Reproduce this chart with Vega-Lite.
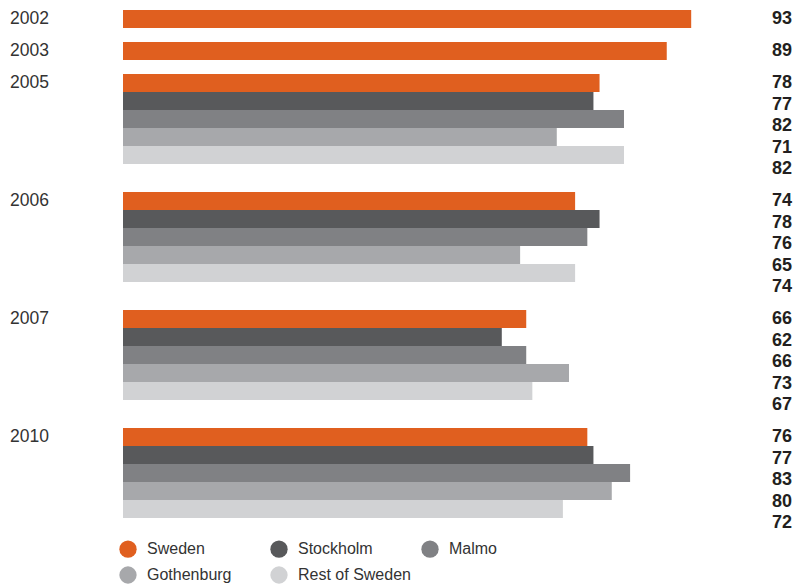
{
  "$schema": "https://vega.github.io/schema/vega-lite/v6.json",
  "padding": {"left": 10, "top": 10, "right": 13, "bottom": 0},
  "background": "white",
  "data": {"values": [
    {"Year": "2002", "Region": "Sweden", "Value": 93},
    {"Year": "2003", "Region": "Sweden", "Value": 89},
    {"Year": "2005", "Region": "Sweden", "Value": 78},
    {"Year": "2005", "Region": "Stockholm", "Value": 77},
    {"Year": "2005", "Region": "Malmo", "Value": 82},
    {"Year": "2005", "Region": "Gothenburg", "Value": 71},
    {"Year": "2005", "Region": "Rest of Sweden", "Value": 82},
    {"Year": "2006", "Region": "Sweden", "Value": 74},
    {"Year": "2006", "Region": "Stockholm", "Value": 78},
    {"Year": "2006", "Region": "Malmo", "Value": 76},
    {"Year": "2006", "Region": "Gothenburg", "Value": 65},
    {"Year": "2006", "Region": "Rest of Sweden", "Value": 74},
    {"Year": "2007", "Region": "Sweden", "Value": 66},
    {"Year": "2007", "Region": "Stockholm", "Value": 62},
    {"Year": "2007", "Region": "Malmo", "Value": 66},
    {"Year": "2007", "Region": "Gothenburg", "Value": 73},
    {"Year": "2007", "Region": "Rest of Sweden", "Value": 67},
    {"Year": "2010", "Region": "Sweden", "Value": 76},
    {"Year": "2010", "Region": "Stockholm", "Value": 77},
    {"Year": "2010", "Region": "Malmo", "Value": 83},
    {"Year": "2010", "Region": "Gothenburg", "Value": 80},
    {"Year": "2010", "Region": "Rest of Sweden", "Value": 72}
  ]},
  "facet": {
    "row": {
      "field": "Year", "type": "ordinal", "sort": "ascending", "title": null,
      "header": {
        "labelAngle": 0, "labelOrient": "left", "labelAlign": "left",
        "labelAnchor": "end", "labelBaseline": "top",
        "labelFont": "Liberation Sans", "labelFontSize": 17.5, "labelColor": "#333333",
        "labelPadding": 74
      }
    }
  },
  "spacing": 14,
  "resolve": {"scale": {"y": "independent"}},
  "spec": {
    "width": 669,
    "height": {"step": 18},
    "encoding": {
      "y": {
        "field": "Region", "type": "nominal",
        "sort": ["Sweden", "Stockholm", "Malmo", "Gothenburg", "Rest of Sweden"],
        "scale": {"paddingInner": 0, "paddingOuter": 0},
        "axis": null
      }
    },
    "layer": [
      {
        "mark": {"type": "bar"},
        "encoding": {
          "x": {"field": "Value", "type": "quantitative", "scale": {"domain": [0, 109.5], "nice": false}, "axis": null},
          "color": {
            "field": "Region", "type": "nominal",
            "sort": ["Sweden", "Stockholm", "Malmo", "Gothenburg", "Rest of Sweden"],
            "scale": {
              "domain": ["Sweden", "Stockholm", "Malmo", "Gothenburg", "Rest of Sweden"],
              "range": ["#E05F1F", "#58595B", "#808184", "#A7A8AB", "#D1D2D4"]
            },
            "legend": {
              "title": null, "orient": "none", "legendX": -4, "legendY": 530,
              "direction": "horizontal", "columns": 3, "gridAlign": "all",
              "symbolType": "circle", "symbolSize": 300, "symbolStrokeWidth": 0,
              "symbolOpacity": 1,
              "labelFont": "Liberation Sans", "labelFontSize": 16, "labelColor": "#333333",
              "labelOffset": 10, "labelLimit": 200, "columnPadding": 10, "rowPadding": 8
            }
          }
        }
      },
      {
        "mark": {
          "type": "text", "align": "right", "baseline": "middle",
          "font": "Liberation Sans", "fontWeight": "bold", "fontSize": 18, "color": "#231F20",
          "dy": {"expr": "indexof(['Sweden','Stockholm','Malmo','Gothenburg','Rest of Sweden'], datum.Region) * 3.5"}
        },
        "encoding": {
          "x": {"datum": 109.5, "type": "quantitative"},
          "text": {"field": "Value", "type": "quantitative"}
        }
      }
    ]
  },
  "config": {
    "view": {"stroke": null}
  }
}
